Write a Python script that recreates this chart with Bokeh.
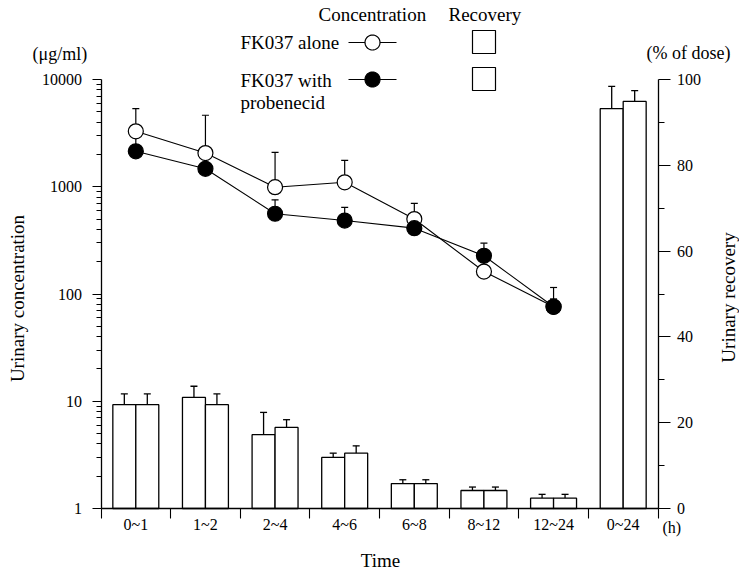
import numpy as np
from bokeh.plotting import figure
from bokeh.models import (Range1d, LinearAxis, LinearScale, FixedTicker, PrintfTickFormatter,
                          CustomJSTickFormatter, Label, BoxAnnotation, PolyAnnotation)
from bokeh.embed import file_html
from bokeh.resources import INLINE

# ---------------- data ----------------
categories = ["0~1", "1~2", "2~4", "4~6", "6~8", "8~12", "12~24", "0~24"]
# urinary concentration (ug/ml), first seven intervals
conc_alone = [3290, 2060, 990, 1100, 500, 162, 76]
conc_alone_upper = [5360, 4640, 2090, 1760, 700, 200, 90]
conc_prob = [2140, 1470, 560, 484, 411, 227, 76]
conc_prob_upper = [3000, 2000, 756, 641, 470, 298, 115]
# urinary recovery (% of dose)
rec_alone = [24.2, 25.9, 17.2, 11.9, 5.8, 4.2, 2.4, 93.2]
rec_alone_upper = [26.7, 28.5, 22.4, 12.9, 6.7, 5.0, 3.3, 98.4]
rec_prob = [24.2, 24.2, 18.9, 12.9, 5.8, 4.2, 2.4, 94.9]
rec_prob_upper = [26.7, 26.7, 20.7, 14.6, 6.7, 5.0, 3.3, 97.4]
conc_ticks = [1, 10, 100, 1000, 10000]
rec_ticks = [0, 20, 40, 60, 80, 100]
rec_minor_ticks = [10, 30, 50, 70, 90]

FONT = "Liberation Serif"
W, H = 739, 571
# layout: pixel positions of the value area inside the canvas
PX_L, PX_R = 100.5, 657.5
PY_T, PY_B = 79.0, 508.0
ncat = len(categories)
ux = (PX_R - PX_L) / ncat
cmin, cmax = conc_ticks[0], conc_ticks[-1]
ndec = np.log10(cmax / cmin)
dec = (PY_B - PY_T) / ndec
rmin, rmax = rec_ticks[0], rec_ticks[-1]
ur = (PY_B - PY_T) / (rmax - rmin)

p = figure(width=W, height=H, output_backend="svg", toolbar_location=None, title=None,
           y_axis_type="log",
           x_range=Range1d(-PX_L / ux, ncat + (W - PX_R) / ux),
           y_range=Range1d(cmin * 10 ** (-(H - PY_B) / dec), cmax * 10 ** (PY_T / dec)),
           min_border=0, min_border_left=0, min_border_right=0,
           min_border_top=0, min_border_bottom=0)
p.extra_y_ranges = {"rec": Range1d(rmin - (H - PY_B) / ur, rmax + PY_T / ur)}
p.extra_y_scales = {"rec": LinearScale()}
p.grid.visible = False
p.outline_line_color = None
p.background_fill_color = "white"
p.border_fill_color = "white"

centers = np.arange(ncat) + 0.5
bw = 0.33
xa = centers - bw / 2
xb = centers + bw / 2

# ---------------- recovery bars ----------------
for xs, top, up in ((xa, rec_alone, rec_alone_upper), (xb, rec_prob, rec_prob_upper)):
    p.segment(x0=xs, y0=top, x1=xs, y1=up, y_range_name="rec",
              line_color="black", line_width=1.3)
    p.scatter(x=xs, y=up, marker="dash", size=7, y_range_name="rec",
              line_color="black", line_width=1.3)
    p.vbar(x=xs, top=top, bottom=rmin, width=bw, y_range_name="rec",
           fill_color="white", line_color="black", line_width=1.3)

# ---------------- concentration ----------------
cx = centers[:len(conc_alone)]
for vals, up in ((conc_alone, conc_alone_upper), (conc_prob, conc_prob_upper)):
    p.segment(x0=cx, y0=vals, x1=cx, y1=up, line_color="black", line_width=1.2)
    p.scatter(x=cx, y=up, marker="dash", size=7, line_color="black", line_width=1.2)
p.line(cx, conc_alone, line_color="black", line_width=1.1)
p.line(cx, conc_prob, line_color="black", line_width=1.1)
p.scatter(cx, conc_alone, marker="circle", size=15, fill_color="white",
          line_color="black", line_width=1.2)
p.scatter(cx, conc_prob, marker="circle", size=15, fill_color="black",
          line_color="black", line_width=1.2)

# ---------------- axes ----------------
def style(ax, size="15px"):
    ax.axis_line_color = "black"
    ax.axis_line_width = 1.3
    ax.major_tick_line_color = "black"
    ax.minor_tick_line_color = "black"
    ax.major_tick_line_width = 1.2
    ax.minor_tick_line_width = 1.1
    ax.major_tick_in = 0
    ax.minor_tick_in = 0
    ax.major_label_text_font = FONT
    ax.major_label_text_font_size = size
    ax.major_label_text_color = "black"

ly = p.yaxis[0]
ly.ticker = FixedTicker(ticks=conc_ticks,
                        minor_ticks=[m * 10 ** d for d in range(int(ndec)) for m in range(2, 10)])
ly.formatter = PrintfTickFormatter(format="%d")
style(ly, "16px")
ly.major_tick_out = 9
ly.minor_tick_out = 5
ly.major_label_standoff = 10
ly.fixed_location = 0
ly.bounds = (cmin, cmax)

ry = LinearAxis(y_range_name="rec",
                ticker=FixedTicker(ticks=rec_ticks, minor_ticks=rec_minor_ticks))
style(ry, "16px")
ry.major_tick_out = 12
ry.minor_tick_out = 6
ry.major_label_standoff = 7
ry.fixed_location = ncat
ry.bounds = (rmin, rmax)
p.add_layout(ry, "right")

bx = p.xaxis[0]
bx.ticker = FixedTicker(ticks=list(centers), minor_ticks=list(range(ncat + 1)))
bx.formatter = CustomJSTickFormatter(args=dict(labels=categories),
                                     code="return labels[Math.floor(tick)] ?? '';")
style(bx, "16px")
bx.major_tick_out = 0
bx.minor_tick_out = 10
bx.major_label_standoff = -3
bx.fixed_location = cmin
bx.bounds = (0, ncat)

# ---------------- texts & legend (screen units) ----------------
def sx(px):
    return px

def sy(py):
    return H - py

def text(x, y, s, size="18px", align="left", angle=0):
    p.add_layout(Label(x=sx(x), y=sy(y), x_units="screen", y_units="screen", text=s,
                       text_font=FONT, text_font_size=size, text_align=align,
                       text_baseline="middle", angle=angle, text_color="black"))

text(32, 53, "(μg/ml)", "18px")
text(646, 52, "(% of dose)", "18px")
text(318, 14, "Concentration", "19px")
text(448, 14, "Recovery", "19px")
text(240, 42, "FK037 alone", "19px")
text(240, 80, "FK037 with", "19px")
text(240, 102, "probenecid", "19px")
text(17, 298, "Urinary concentration", "19px", "center", np.pi / 2)
text(728, 297, "Urinary recovery", "19px", "center", np.pi / 2)
text(380, 560, "Time", "19px", "center")
text(662, 527, "(h)", "16px")

t = np.linspace(0, 2 * np.pi, 48)
for row_y, fill in ((42, "white"), (79, "black")):
    p.add_layout(PolyAnnotation(xs=[sx(348), sx(396)], ys=[sy(row_y), sy(row_y)],
                                xs_units="screen", ys_units="screen",
                                fill_alpha=0, line_color="black", line_alpha=1,
                                line_width=1.2))
    p.add_layout(PolyAnnotation(xs=list(sx(372 + 7.5 * np.cos(t))),
                                ys=list(sy(row_y + 7.5 * np.sin(t))),
                                xs_units="screen", ys_units="screen",
                                fill_color=fill, fill_alpha=1,
                                line_color="black", line_alpha=1, line_width=1.2))
for top, bot in ((30, 53), (67, 90)):
    p.add_layout(BoxAnnotation(left=sx(472), right=sx(495), top=sy(top), bottom=sy(bot),
                               left_units="screen", right_units="screen",
                               top_units="screen", bottom_units="screen",
                               fill_color="white", fill_alpha=1,
                               line_color="black", line_alpha=1, line_width=1.2))

open("out.html", "w").write(file_html(p, INLINE))
